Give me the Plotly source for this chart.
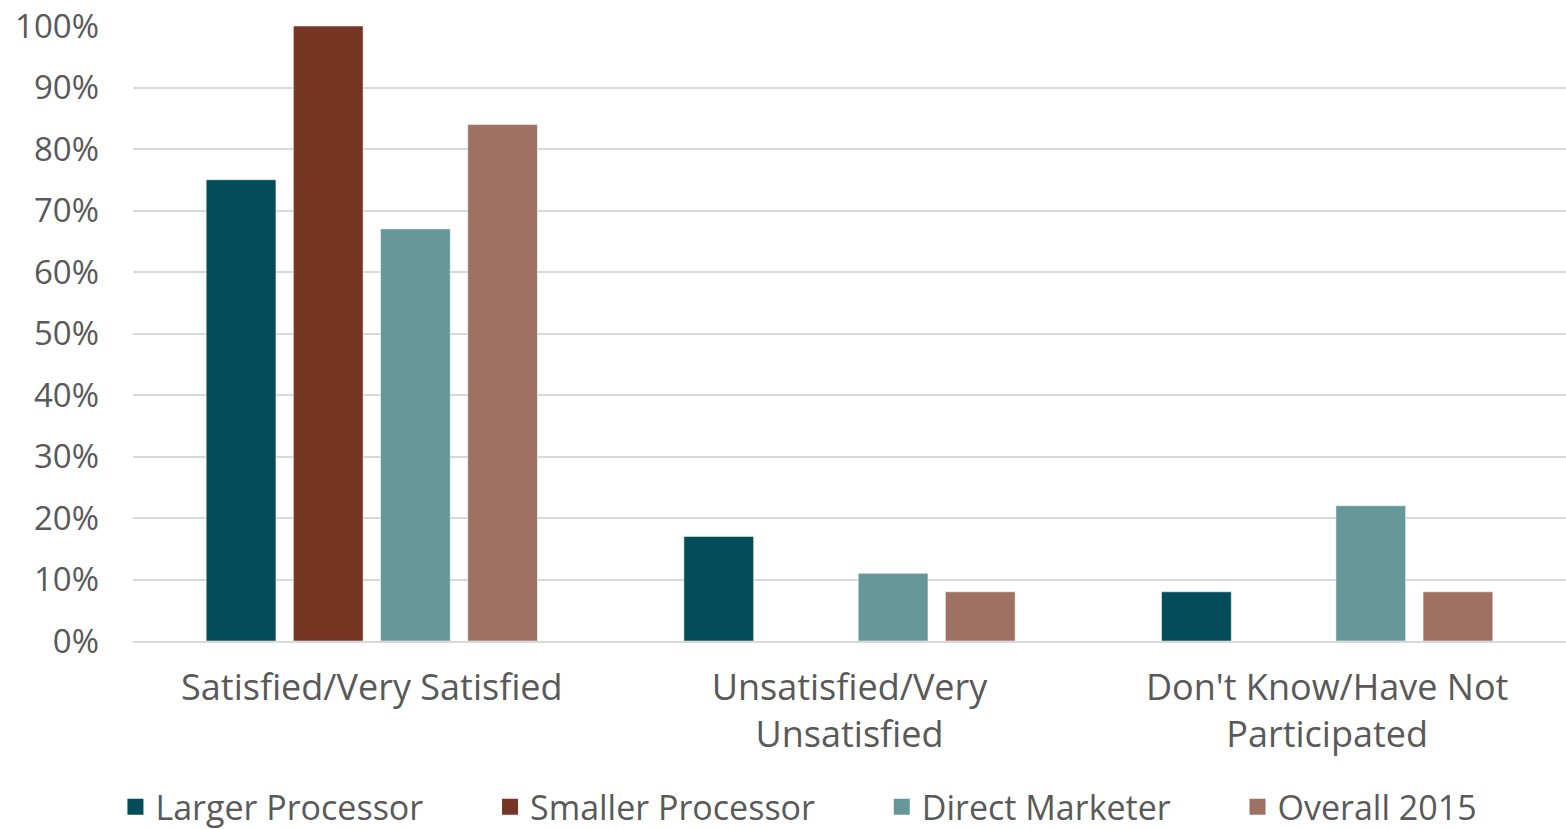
import plotly.graph_objects as go

categories = ["Satisfied/Very Satisfied", "Unsatisfied/Very<br>Unsatisfied", "Don't Know/Have Not<br>Participated"]
larger_processor = [75, 17, 8]
smaller_processor = [100, 0, 0]
direct_marketer = [67, 11, 22]
overall_2015 = [84, 8, 8]
y_ticks = [0, 10, 20, 30, 40, 50, 60, 70, 80, 90, 100]
y_tick_labels = [f"{v}%" for v in y_ticks]

series = [
    ("Larger Processor", larger_processor, "#024d59"),
    ("Smaller Processor", smaller_processor, "#773524"),
    ("Direct Marketer", direct_marketer, "#67979b"),
    ("Overall 2015", overall_2015, "#9e7163"),
]

FONT = "Open Sans"
TEXT = "#595959"
PAD = "\u00a0" * 7

fig = go.Figure()
for name, vals, color in series:
    fig.add_trace(go.Bar(
        x=categories, y=vals, name=name, showlegend=False,
        marker=dict(color=color, line=dict(color="rgba(255,255,255,0.5)", width=1)),
    ))
# square legend keys
for name, vals, color in series:
    fig.add_trace(go.Scatter(
        x=[categories[0]], y=[None], mode="markers", name=name + PAD,
        marker=dict(symbol="square", size=18, color=color), showlegend=True,
    ))

fig.update_layout(
    width=1566, height=829,
    margin=dict(l=133, r=0, t=26, b=188, autoexpand=False),
    paper_bgcolor="white", plot_bgcolor="white",
    barmode="group", bargap=0.27, bargroupgap=0.2,
    font=dict(family=FONT, color=TEXT, size=32),
    legend=dict(orientation="h", x=0.486, xanchor="center", y=-0.27, yanchor="middle",
                font=dict(size=34, color=TEXT), itemwidth=30, traceorder="normal"),
    showlegend=True,
)
fig.update_yaxes(range=[0, 100], tickmode="array", tickvals=y_ticks, ticktext=y_tick_labels,
                 showgrid=True, gridcolor="#d9d9d9", gridwidth=2, zeroline=False, showline=False,
                 automargin=False, ticklabeloverflow="allow",
                 ticklabelstandoff=33, tickfont=dict(size=33, color=TEXT))
fig.update_xaxes(showline=True, linecolor="#d9d9d9", linewidth=2, ticks="", automargin=False,
                 ticklabelstandoff=14, tickfont=dict(size=36, color=TEXT))

fig.write_html("out.html")
